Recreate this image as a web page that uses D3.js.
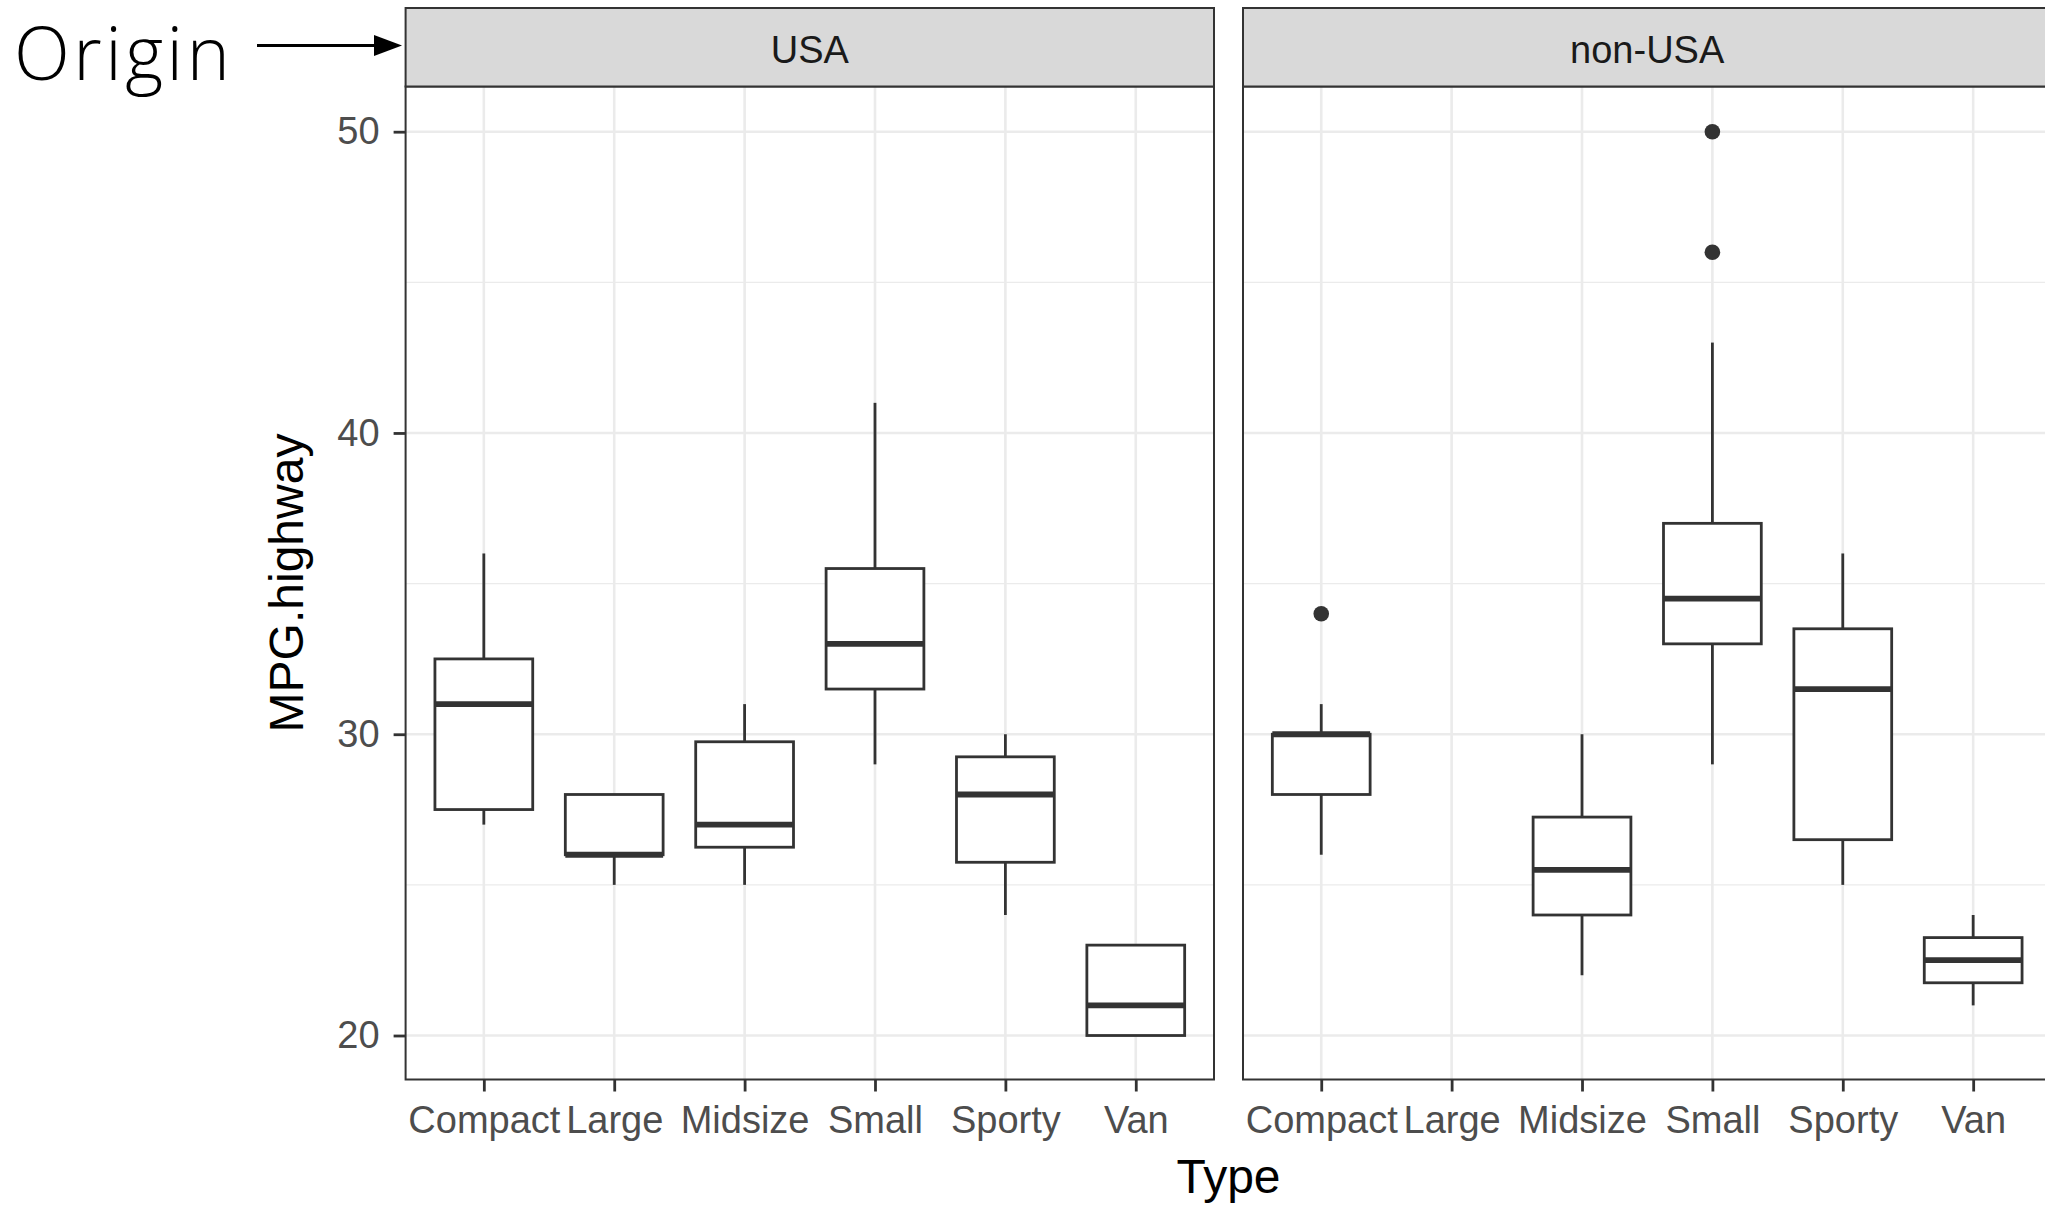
<!DOCTYPE html>
<html>
<head>
<meta charset="utf-8">
<script src="https://cdn.jsdelivr.net/npm/d3@7"></script>
<style>
  body { margin: 0; background: #fff; }
  svg { display: block; }
</style>
</head>
<body>
<script>
// categories and facets
const types = ["Compact", "Large", "Midsize", "Small", "Sporty", "Van"];
const origins = ["USA", "non-USA"];
const yTicks = [20, 30, 40, 50];
const yMinor = [25, 35, 45];

// box stats, one entry per type (null = no cars)
const usaLow  = [27,   25,   25,    29,   24,    20];
const usaQ1   = [27.5, 26,   26.25, 31.5, 25.75, 20];
const usaMed  = [31,   26,   27,    33,   28,    21];
const usaQ3   = [32.5, 28,   29.75, 35.5, 29.25, 23];
const usaHigh = [36,   28,   31,    41,   30,    23];
const usaOut  = [[], [], [], [], [], []];

const nonLow  = [26,   null, 22,    29,   25,    21];
const nonQ1   = [28,   null, 24,    33,   26.5,  21.75];
const nonMed  = [30,   null, 25.5,  34.5, 31.5,  22.5];
const nonQ3   = [30,   null, 27.25, 37,   33.5,  23.25];
const nonHigh = [31,   null, 30,    43,   36,    24];
const nonOut  = [[34], [], [], [50, 46], [], []];

const stats = {
  "USA": {low: usaLow, q1: usaQ1, med: usaMed, q3: usaQ3, high: usaHigh, out: usaOut},
  "non-USA": {low: nonLow, q1: nonQ1, med: nonMed, q3: nonQ3, high: nonHigh, out: nonOut}
};

const width = 2045, height = 1207;
const panelX = [405.6, 1243];
const panelW = 808.4;
const stripTop = 8, panelTop = 86.5, panelBottom = 1079.5;
const ink = "#333333";
const font = "'Liberation Sans', Arial, Helvetica, sans-serif";

const svg = d3.select("body").append("svg")
    .attr("width", width)
    .attr("height", height)
    .style("font-family", font);

const y = d3.scaleLinear()
    .domain([18.5, 51.5])
    .range([1080.7, 86.5]);

const x = d3.scalePoint()
    .domain(types)
    .range([0, panelW])
    .padding(0.6);

const boxW = x.step() * 0.75;

origins.forEach((origin, i) => {
  const s = stats[origin];
  const g = svg.append("g").attr("transform", `translate(${panelX[i]},0)`);

  // grid
  g.append("g").selectAll("line")
    .data(yMinor)
    .join("line")
      .attr("x1", 0).attr("x2", panelW)
      .attr("y1", d => y(d)).attr("y2", d => y(d))
      .attr("stroke", "#ebebeb").attr("stroke-width", 1.3);
  g.append("g").selectAll("line")
    .data(yTicks)
    .join("line")
      .attr("x1", 0).attr("x2", panelW)
      .attr("y1", d => y(d)).attr("y2", d => y(d))
      .attr("stroke", "#ebebeb").attr("stroke-width", 2.6);
  g.append("g").selectAll("line")
    .data(types)
    .join("line")
      .attr("x1", d => x(d)).attr("x2", d => x(d))
      .attr("y1", panelTop).attr("y2", panelBottom)
      .attr("stroke", "#ebebeb").attr("stroke-width", 2.6);

  // boxes
  const rows = types.map((t, k) => ({
    type: t, low: s.low[k], q1: s.q1[k], med: s.med[k], q3: s.q3[k], high: s.high[k], out: s.out[k]
  })).filter(d => d.med !== null);

  const box = g.append("g").selectAll("g")
    .data(rows)
    .join("g")
      .attr("transform", d => `translate(${x(d.type)},0)`);

  box.append("line")
      .attr("y1", d => y(d.high)).attr("y2", d => y(d.q3))
      .attr("stroke", ink).attr("stroke-width", 2.8);
  box.append("line")
      .attr("y1", d => y(d.q1)).attr("y2", d => y(d.low))
      .attr("stroke", ink).attr("stroke-width", 2.8);
  box.append("rect")
      .attr("x", -boxW / 2)
      .attr("width", boxW)
      .attr("y", d => y(d.q3))
      .attr("height", d => y(d.q1) - y(d.q3))
      .attr("fill", "#fff")
      .attr("stroke", ink).attr("stroke-width", 2.8);
  box.append("line")
      .attr("x1", -boxW / 2).attr("x2", boxW / 2)
      .attr("y1", d => y(d.med)).attr("y2", d => y(d.med))
      .attr("stroke", ink).attr("stroke-width", 5.8);
  box.selectAll("circle")
    .data(d => d.out)
    .join("circle")
      .attr("cy", d => y(d))
      .attr("r", 7.8)
      .attr("fill", ink);

  // panel border
  g.append("rect")
      .attr("x", 0).attr("y", panelTop)
      .attr("width", panelW).attr("height", panelBottom - panelTop)
      .attr("fill", "none").attr("stroke", ink).attr("stroke-width", 2);

  // strip
  g.append("rect")
      .attr("x", 0).attr("y", stripTop)
      .attr("width", panelW).attr("height", panelTop - stripTop)
      .attr("fill", "#d9d9d9").attr("stroke", ink).attr("stroke-width", 2);
  g.append("text")
      .attr("x", panelW / 2)
      .attr("y", (stripTop + panelTop) / 2 + 2)
      .attr("dy", "0.35em")
      .attr("text-anchor", "middle")
      .attr("fill", "#1a1a1a")
      .style("font-size", "38px")
      .text(origin);

  // x axis
  const xa = g.append("g")
      .attr("transform", `translate(0,${panelBottom})`)
      .call(d3.axisBottom(x).tickSize(12).tickPadding(15));
  xa.select(".domain").remove();
  xa.selectAll(".tick line").attr("stroke", ink).attr("stroke-width", 2.8);
  xa.selectAll(".tick text")
      .attr("fill", "#4d4d4d")
      .style("font-size", "38px")
      .style("font-family", font);

  // y axis on the first panel only
  if (i === 0) {
    const ya = g.append("g")
        .call(d3.axisLeft(y).tickValues(yTicks).tickSize(12).tickPadding(14));
    ya.select(".domain").remove();
    ya.selectAll(".tick line").attr("stroke", ink).attr("stroke-width", 2.8);
    ya.selectAll(".tick text")
        .attr("fill", "#4d4d4d")
        .style("font-size", "38px")
        .style("font-family", font);
  }
});

// axis titles
svg.append("text")
    .attr("x", (panelX[0] + panelX[1] + panelW) / 2)
    .attr("y", 1193)
    .attr("text-anchor", "middle")
    .style("font-size", "48px")
    .text("Type");

svg.append("text")
    .attr("transform", `translate(303,${(panelTop + panelBottom) / 2}) rotate(-90)`)
    .attr("text-anchor", "middle")
    .style("font-size", "48px")
    .text("MPG.highway");

// annotation
svg.append("text")
    .attr("x", 14)
    .attr("y", 80)
    .style("font-family", "'Open Sans', Roboto, sans-serif")
    .style("font-weight", 300)
    .style("font-size", "73px")
    .style("letter-spacing", "3.5px")
    .text("Origin");

svg.append("line")
    .attr("x1", 257).attr("x2", 380)
    .attr("y1", 45.5).attr("y2", 45.5)
    .attr("stroke", "#000").attr("stroke-width", 3);
svg.append("path")
    .attr("d", "M374,35 L402,45.5 L374,56 Z")
    .attr("fill", "#000");
</script>
</body>
</html>
